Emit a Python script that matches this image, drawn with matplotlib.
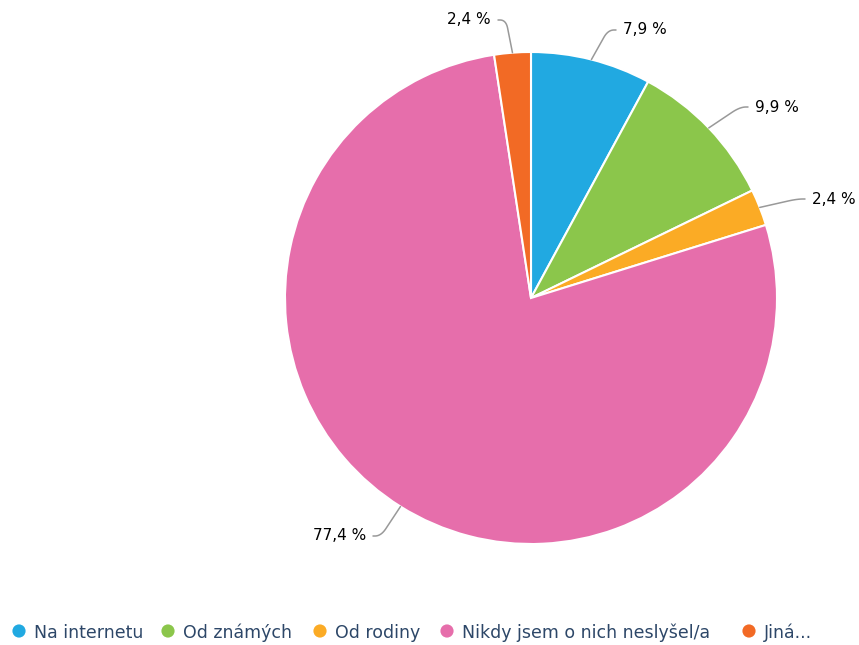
import matplotlib
matplotlib.use("Agg")
import matplotlib.pyplot as plt
import numpy as np

categories = ["Na internetu", "Od známých", "Od rodiny", "Nikdy jsem o nich neslyšel/a", "Jiná..."]
values = [7.9, 9.9, 2.4, 77.4, 2.4]
labels = ["7,9 %", "9,9 %", "2,4 %", "77,4 %", "2,4 %"]
colors = ["#21a9e1", "#8bc64b", "#fbab25", "#e66eab", "#f26a25"]

W, H = 859, 645
fig = plt.figure(figsize=(W / 100, H / 100), dpi=100)
ax = fig.add_axes([0, 0, 1, 1])
ax.set_xlim(0, W)
ax.set_ylim(0, H)
ax.axis("off")

cx, cy, R = 531, H - 298, 246
wedges, _ = ax.pie(values, colors=colors, startangle=90, counterclock=False,
                   center=(cx, cy), radius=R,
                   wedgeprops=dict(edgecolor="white", linewidth=1.5))
ax.set_xlim(0, W)
ax.set_ylim(0, H)
ax.set_aspect("equal")

# label text anchors (pixel coords from top) and alignment
text_pos = [(623, 30, "left"), (755, 107, "left"), (812, 199, "left"),
            (366, 536, "right"), (491, 20, "right")]
for w, lab, (tx, ty, ha) in zip(wedges, labels, text_pos):
    ang = np.deg2rad((w.theta1 + w.theta2) / 2)
    ex, ey = cx + R * np.cos(ang), cy + R * np.sin(ang)
    ty_d = H - ty
    sign = 1 if ha == "left" else -1
    end_x = tx - sign * 7
    knee_x = end_x - sign * 8
    # smooth connector: straight from edge, rounded corner into horizontal
    t = np.linspace(0, 1, 20)
    mx, my = knee_x, ty_d
    sx, sy = ex + (mx - ex) * 0.75, ey + (my - ey) * 0.75
    bx = (1 - t) ** 2 * sx + 2 * (1 - t) * t * mx + t ** 2 * (mx + sign * 6)
    by = (1 - t) ** 2 * sy + 2 * (1 - t) * t * my + t ** 2 * my
    xs = np.concatenate([[ex], bx, [end_x]])
    ys = np.concatenate([[ey], by, [ty_d]])
    ax.plot(xs, ys, color="#999999", lw=1.1,
            solid_capstyle="round", solid_joinstyle="round")
    ax.text(tx, ty_d, lab, ha=ha, va="center", fontsize=11, color="#000000",
            family="DejaVu Sans")

# legend
leg_x = [19, 168, 320, 447, 749]
leg_y = H - 633
for x, c, name in zip(leg_x, colors, categories):
    ax.scatter([x], [leg_y + 2], s=90, color=c, edgecolors="none")
    ax.text(x + 15, leg_y, name, ha="left", va="center", fontsize=12.5,
            color="#2d4768", family="DejaVu Sans")

fig.savefig("out.png", dpi=100)
